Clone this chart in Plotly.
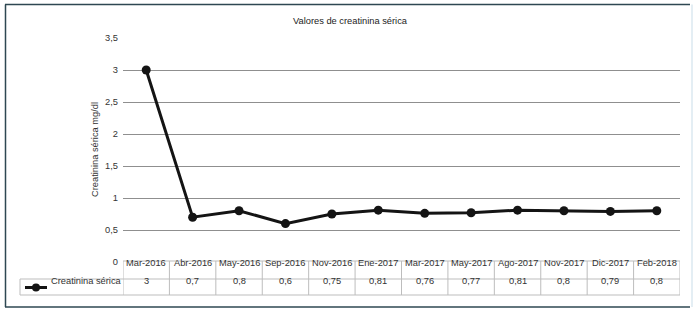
import plotly.graph_objects as go

months = ["Mar-2016", "Abr-2016", "May-2016", "Sep-2016", "Nov-2016", "Ene-2017",
          "Mar-2017", "May-2017", "Ago-2017", "Nov-2017", "Dic-2017", "Feb-2018"]
creatinina = [3, 0.7, 0.8, 0.6, 0.75, 0.81, 0.76, 0.77, 0.81, 0.8, 0.79, 0.8]
series_name = "Creatinina sérica"
chart_title = "Valores de creatinina sérica"
y_title = "Creatinina sérica mg/dl"
y_ticks = [0, 0.5, 1, 1.5, 2, 2.5, 3, 3.5]

W, H = 700, 315
L, R, T, B = 123, 20, 38, 53
PW, PH = W - L - R, H - T - B
FONT = "Liberation Sans, Arial, sans-serif"
FS = 9.3


def px(xp):
    return (xp - L) / PW


def py(yp):
    return (H - B - yp) / PH


fig = go.Figure()
fig.add_trace(go.Scatter(
    x=months, y=creatinina, mode="lines+markers", name=series_name,
    line=dict(color="#141414", width=3),
    marker=dict(color="#141414", size=9),
    showlegend=False, cliponaxis=False, hoverinfo="skip",
))

shapes = []
annotations = []
tcol = "#bdbdbd"
top, mid, bot = 261, 279, 295
n = len(months)
# horizontal lines of the table
shapes.append(dict(type="line", xref="x", yref="paper", x0=-0.5, x1=n - 0.5,
                   y0=py(top), y1=py(top), line=dict(color=tcol, width=1)))
shapes.append(dict(type="line", xref="paper", yref="paper", x0=px(20), x1=1,
                   y0=py(mid), y1=py(mid), line=dict(color=tcol, width=1)))
shapes.append(dict(type="line", xref="paper", yref="paper", x0=px(20), x1=1,
                   y0=py(bot), y1=py(bot), line=dict(color=tcol, width=1)))
shapes.append(dict(type="line", xref="paper", yref="paper", x0=px(20), x1=px(20),
                   y0=py(mid), y1=py(bot), line=dict(color=tcol, width=1)))
for i in range(n + 1):
    shapes.append(dict(type="line", xref="x", yref="paper", x0=i - 0.5, x1=i - 0.5,
                       y0=py(top), y1=py(bot), line=dict(color=tcol, width=1)))
for m, v in zip(months, creatinina):
    annotations.append(dict(x=m, y=py(270), xref="x", yref="paper", text=m,
                            showarrow=False, font=dict(size=FS, color="#333", family=FONT)))
    annotations.append(dict(x=m, y=py(287.5), xref="x", yref="paper",
                            text=str(v).replace(".", ","),
                            showarrow=False, font=dict(size=FS, color="#333", family=FONT)))
# legend key inside table
shapes.append(dict(type="line", xref="paper", yref="paper", x0=px(25), x1=px(47),
                   y0=py(287.5), y1=py(287.5), line=dict(color="#141414", width=3)))
shapes.append(dict(type="circle", xref="paper", yref="paper", x0=px(32), x1=px(40),
                   y0=py(283.5), y1=py(291.5), fillcolor="#141414",
                   line=dict(color="#141414", width=0)))
annotations.append(dict(x=px(49), y=py(287.5), xref="paper", yref="paper",
                        text=series_name, xanchor="left", showarrow=False,
                        font=dict(size=FS, color="#333", family=FONT)))
# y axis title
annotations.append(dict(x=px(88), y=py(150), xref="paper", yref="paper",
                        text=y_title, textangle=-90, showarrow=False,
                        font=dict(size=FS, color="#333", family=FONT)))
# outer frame
frame = "#2e4752"
shapes.append(dict(type="line", xref="paper", yref="paper", x0=px(5), x1=px(690),
                   y0=py(4.5), y1=py(4.5), line=dict(color=frame, width=1.5)))
shapes.append(dict(type="line", xref="paper", yref="paper", x0=px(5), x1=px(690),
                   y0=py(307), y1=py(307), line=dict(color=frame, width=1.5)))
shapes.append(dict(type="line", xref="paper", yref="paper", x0=px(5.5), x1=px(5.5),
                   y0=py(4.5), y1=py(307), line=dict(color=frame, width=1.5)))
shapes.append(dict(type="line", xref="paper", yref="paper", x0=px(692), x1=px(692),
                   y0=py(4.5), y1=py(307), line=dict(color="#dbe9f0", width=1.5)))

fig.update_layout(
    width=W, height=H,
    margin=dict(l=L, r=R, t=T, b=B, autoexpand=False),
    paper_bgcolor="white", plot_bgcolor="white",
    separators=",.",
    font=dict(family=FONT, size=FS, color="#333"),
    title=dict(text=chart_title, x=0.5, xanchor="center", y=1 - 21 / H, yanchor="middle",
               font=dict(size=FS, color="#222", family=FONT)),
    xaxis=dict(type="category", range=[-0.5, n - 0.5], showticklabels=False,
               showgrid=False, zeroline=False, showline=False),
    yaxis=dict(range=[0, 3.5], tickvals=y_ticks, showgrid=True, gridcolor="#8f8f8f",
               gridwidth=1, zeroline=False, showline=False, ticks="",
               ticklabelstandoff=4, tickfont=dict(size=FS, color="#333", family=FONT)),
    shapes=shapes, annotations=annotations,
    hovermode=False,
)
fig.write_html("out.html", config={"displayModeBar": False, "staticPlot": True},
               post_script="document.body.style.margin='0';document.body.style.overflow='hidden';")
